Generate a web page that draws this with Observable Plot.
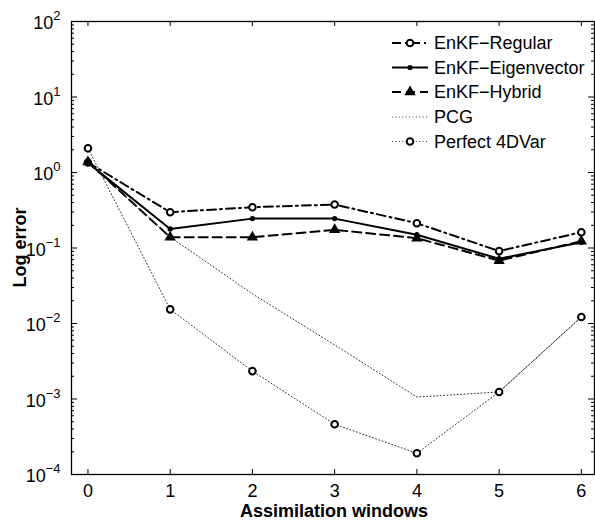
<!DOCTYPE html>
<html>
<head>
<meta charset="utf-8">
<script src="https://cdn.jsdelivr.net/npm/d3@7"></script>
<script src="https://cdn.jsdelivr.net/npm/@observablehq/plot@0.6"></script>
<style>
  html, body { margin: 0; padding: 0; background: white; }
</style>
</head>
<body>
<div id="chart"></div>
<script>
// ---- data ----
const windows = [0, 1, 2, 3, 4, 5, 6];
const xTickLabels = ["0", "1", "2", "3", "4", "5", "6"];
const seriesNames = ["EnKF\u2212Regular", "EnKF\u2212Eigenvector", "EnKF\u2212Hybrid", "PCG", "Perfect 4DVar"];
const enkfRegular = [1.36, 0.298, 0.347, 0.376, 0.213, 0.091, 0.162];
const enkfEigenvector = [1.34, 0.179, 0.245, 0.245, 0.150, 0.072, 0.119];
const enkfHybrid = [1.38, 0.139, 0.139, 0.174, 0.135, 0.068, 0.123];
const pcg = [1.35, 0.14, 0.0247, 0.0052, 0.00106, 0.00124, 0.0122];
const perfect4DVar = [2.09, 0.0154, 0.00234, 0.000463, 0.000191, 0.00124, 0.0122];
const yTickValues = [1e-4, 1e-3, 1e-2, 1e-1, 1e0, 1e1, 1e2];
const yTickExponents = [-4, -3, -2, -1, 0, 1, 2];
const xLabel = "Assimilation windows";
const yLabel = "Log error";

// ---- layout ----
const W = 595, H = 520;
const mL = 71, mR = 1, mT = 21, mB = 46;
const pw = W - mL - mR, ph = H - mT - mB;
const xDomain = [-0.2, 6.16];

const rows = (vals) => windows.map((w, i) => ({w, v: vals[i]}));
const reg = rows(enkfRegular), eig = rows(enkfEigenvector), hyb = rows(enkfHybrid),
      pc = rows(pcg), per = rows(perfect4DVar);

// minor ticks for log axis (axis decoration)
const minorTicks = [];
for (let k = -4; k < 2; k++) for (let m = 2; m <= 9; m++) minorTicks.push(m * Math.pow(10, k));

const dotted = {stroke: "#333", strokeWidth: 1, strokeDasharray: "1,2.4"};
const dashDot = {stroke: "black", strokeWidth: 2, strokeDasharray: "9,4,2,4"};
const dashed = {stroke: "black", strokeWidth: 2, strokeDasharray: "9,5"};
const solid = {stroke: "black", strokeWidth: 2};

const chart = Plot.plot({
  width: W, height: H,
  marginLeft: mL, marginRight: mR, marginTop: mT, marginBottom: mB,
  style: {fontFamily: "'Liberation Sans', Arial, Helvetica, sans-serif", fontSize: "18px", color: "black", background: "white"},
  x: {domain: xDomain},
  y: {type: "log", domain: [1e-4, 1e2]},
  marks: [
    Plot.axisX(windows, {tickSize: 0, tickPadding: 10, label: null, fontSize: 18,
      tickFormat: d => xTickLabels[windows.indexOf(d)]}),
    Plot.axisY(yTickValues, {tickSize: 0, tickPadding: 11, label: null, fontSize: 18, dy: 2,
      tickFormat: d => "10^" + yTickExponents[yTickValues.indexOf(d)]}),
    // inward ticks
    Plot.tickX(windows, {insetTop: ph - 5, stroke: "black", strokeWidth: 1}),
    Plot.tickX(windows, {insetBottom: ph - 5, stroke: "black", strokeWidth: 1}),
    Plot.tickY(yTickValues, {insetRight: pw - 6, stroke: "black", strokeWidth: 1}),
    Plot.tickY(yTickValues, {insetLeft: pw - 6, stroke: "black", strokeWidth: 1}),
    Plot.tickY(minorTicks, {insetRight: pw - 3, stroke: "black", strokeWidth: 1}),
    Plot.tickY(minorTicks, {insetLeft: pw - 3, stroke: "black", strokeWidth: 1}),
    Plot.frame({stroke: "black", strokeWidth: 1.3}),
    // series
    Plot.line(reg, {x: "w", y: "v", ...dashDot}),
    Plot.dot(reg, {x: "w", y: "v", r: 3.3, stroke: "black", strokeWidth: 2, fill: "white"}),
    Plot.line(eig, {x: "w", y: "v", ...solid}),
    Plot.dot(eig, {x: "w", y: "v", r: 2.6, fill: "black"}),
    Plot.line(hyb, {x: "w", y: "v", ...dashed}),
    Plot.dot(hyb, {x: "w", y: "v", r: 4.2, symbol: "triangle", fill: "black"}),
    Plot.line(pc, {x: "w", y: "v", ...dotted}),
    Plot.line(per, {x: "w", y: "v", ...dotted}),
    Plot.dot(per, {x: "w", y: "v", r: 3.3, stroke: "black", strokeWidth: 2, fill: "white"})
  ]
});

const svg = d3.select(chart);

// superscript exponents on y tick labels
svg.selectAll('g[aria-label="y-axis tick label"] text').each(function () {
  const t = d3.select(this);
  const parts = t.text().split("^");
  t.text(parts[0]);
  t.append("tspan").attr("dy", -9).attr("font-size", "13px").text(parts[1].replace("-", "\u2212"));
});

// axis labels
svg.append("text")
  .attr("x", 334).attr("y", 517)
  .attr("text-anchor", "middle")
  .attr("font-weight", "bold").attr("font-size", "18px")
  .text(xLabel);
svg.append("text")
  .attr("transform", `translate(26,${mT + ph / 2}) rotate(-90)`)
  .attr("text-anchor", "middle")
  .attr("font-weight", "bold").attr("font-size", "18px")
  .text(yLabel);

// legend
const legendStyles = [
  {line: dashDot, marker: "openCircle"},
  {line: solid, marker: "dot"},
  {line: dashed, marker: "triangle"},
  {line: dotted, marker: null},
  {line: dotted, marker: "openCircle"}
];
const lg = svg.append("g").attr("aria-label", "legend");
const rowY = [43, 67.5, 92, 117, 141.5];
seriesNames.forEach((name, i) => {
  const y = rowY[i];
  const st = legendStyles[i];
  lg.append("line").attr("x1", 392).attr("x2", 428).attr("y1", y).attr("y2", y)
    .attr("stroke", st.line.stroke).attr("stroke-width", st.line.strokeWidth)
    .attr("stroke-dasharray", st.line.strokeDasharray || null);
  if (st.marker === "openCircle") {
    lg.append("circle").attr("cx", 410).attr("cy", y).attr("r", 3.3)
      .attr("fill", "white").attr("stroke", "black").attr("stroke-width", 2);
  } else if (st.marker === "dot") {
    lg.append("circle").attr("cx", 410).attr("cy", y).attr("r", 2.6).attr("fill", "black");
  } else if (st.marker === "triangle") {
    lg.append("path").attr("transform", `translate(410,${y})`)
      .attr("d", d3.symbol(d3.symbolTriangle, Math.PI * 4.2 * 4.2)()).attr("fill", "black");
  }
  lg.append("text").attr("x", 434).attr("y", y).attr("dy", "0.35em")
    .attr("text-anchor", "start")
    .attr("font-size", "18px").text(name);
});

document.getElementById("chart").appendChild(chart);
</script>
</body>
</html>
